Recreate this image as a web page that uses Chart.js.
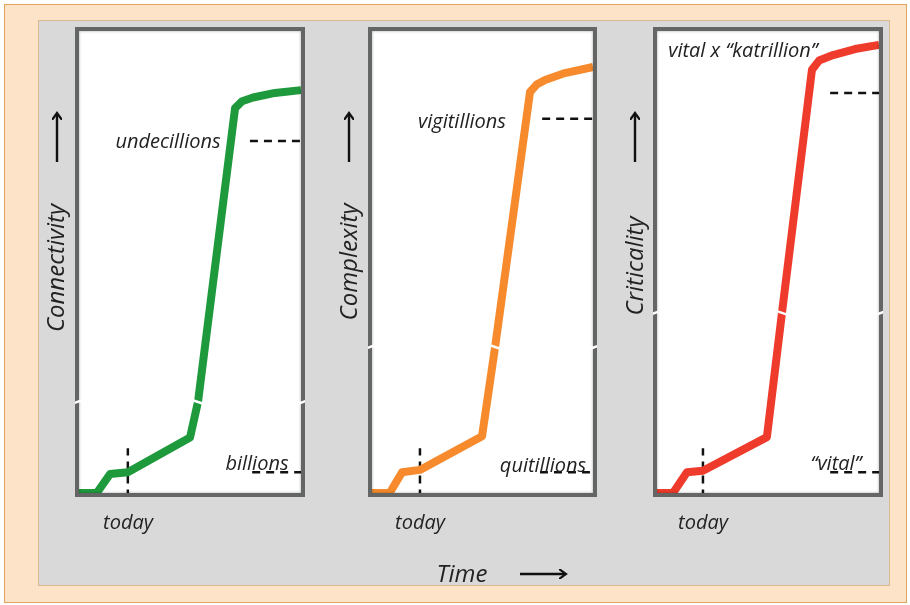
<!DOCTYPE html>
<html><head><meta charset="utf-8">
<script src="https://cdn.jsdelivr.net/npm/chart.js@4/dist/chart.umd.min.js"></script>
<style>
html,body{margin:0;padding:0;background:#fff;}
#stage{position:relative;width:910px;height:605px;overflow:hidden;background:#fff;}
#outer{position:absolute;left:4px;top:4px;width:903px;height:599px;background:#fde4c9;border:1px solid #e3a45c;box-sizing:border-box;}
#gray{position:absolute;left:38px;top:20px;width:852px;height:566px;background:#d9d9d9;border:1px solid #dcb88e;box-sizing:border-box;}
canvas{position:absolute;}
.lbl{position:absolute;font-family:"Open Sans","DejaVu Sans",sans-serif;font-style:italic;color:#222;font-size:20px;white-space:nowrap;line-height:1;transform:translate(-50%,-50%);}
.big{font-size:24px;}
.rot{transform:translate(-50%,-50%) rotate(-90deg);}
svg{position:absolute;left:0;top:0;}
</style>
</head><body>
<div id="stage">
<div id="outer"></div>
<div id="gray"></div>
<canvas id="c0" width="230" height="470" style="left:75px;top:27px"></canvas>
<canvas id="c1" width="229" height="470" style="left:368px;top:27px"></canvas>
<canvas id="c2" width="230" height="470" style="left:653px;top:27px"></canvas>
<svg width="910" height="605">
  <defs><marker id="ah" markerWidth="10" markerHeight="10" refX="6" refY="5" orient="auto" markerUnits="userSpaceOnUse">
    <path d="M0,0 L7,5 L0,10" fill="none" stroke="#111" stroke-width="2.2"/></marker></defs>
  <line x1="57" y1="162" x2="57" y2="114" stroke="#111" stroke-width="2.4" marker-end="url(#ah)"/>
  <line x1="349" y1="162" x2="349" y2="114" stroke="#111" stroke-width="2.4" marker-end="url(#ah)"/>
  <line x1="635" y1="162" x2="635" y2="114" stroke="#111" stroke-width="2.4" marker-end="url(#ah)"/>
  <line x1="520" y1="574" x2="565" y2="574" stroke="#111" stroke-width="2.4" marker-end="url(#ah)"/>
</svg>
<div class="lbl big rot" style="left:55px;top:268px">Connectivity</div>
<div class="lbl big rot" style="left:348px;top:262px">Complexity</div>
<div class="lbl big rot" style="left:634px;top:266px">Criticality</div>
<div class="lbl" style="left:168px;top:141px">undecillions</div>
<div class="lbl" style="left:257px;top:463px">billions</div>
<div class="lbl" style="left:462px;top:121px">vigitillions</div>
<div class="lbl" style="left:543px;top:465px">quitillions</div>
<div class="lbl" style="left:743px;top:50px">vital x “katrillion”</div>
<div class="lbl" style="left:836px;top:463px">“vital”</div>
<div class="lbl" style="left:128px;top:522px">today</div>
<div class="lbl" style="left:420px;top:522px">today</div>
<div class="lbl" style="left:703px;top:522px">today</div>
<div class="lbl big" style="left:462px;top:573px">Time</div>
</div>
<script>
// ---- data (time 0-100 across each panel, level 0-100 up each panel) ----
const panelNames = ['Connectivity', 'Complexity', 'Criticality'];
const seriesColors = ['#1e9a3c', '#f68a2c', '#ee3b2b'];

const connectivityTime  = [0, 8, 14, 22, 50, 53.6, 70.3, 73.5, 78.4, 88.3, 100];
const connectivityLevel = [0, 0, 4.1, 4.5, 12, 19.7, 83.3, 84.8, 85.6, 86.6, 87.2];

const complexityTime  = [0, 8, 13.6, 21.7, 49.8, 55.7, 71.5, 74.5, 78.3, 87.3, 100];
const complexityLevel = [0, 0, 4.5, 5, 12.3, 31.6, 86.8, 88.4, 89.4, 90.9, 92.2];

const criticalityTime  = [0, 7.2, 13.5, 20.7, 49.5, 56.3, 69.8, 73, 79.3, 89.2, 100];
const criticalityLevel = [0, 0, 4.5, 4.8, 12.1, 39, 91.6, 93.6, 94.8, 96.1, 97];

const breakIndex = [5, 5, 5];           // point where the axis break crosses the curve
const todayTime = [22, 21.7, 20.7];
const todayLevelTop = [9.7, 9.7, 9.7];
const upperLevel = [76.2, 81, 86.6];     // undecillions / vigitillions / vital x katrillion
const upperStart = [77, 77, 78];
const lowerLevel = [4.5, 4.5, 4.5];      // billions / quitillions / vital
const lowerStart = [78, 76, 78];

const seriesTime = [connectivityTime, complexityTime, criticalityTime];
const seriesLevel = [connectivityLevel, complexityLevel, criticalityLevel];

const decoPlugin = {
  id: 'deco',
  afterDatasetsDraw(chart, args, opts) {
    const {ctx, chartArea: a, scales: {x, y}} = chart;
    ctx.save();
    ctx.shadowColor = 'rgba(0,0,0,0.35)';
    ctx.shadowBlur = 3;
    ctx.strokeStyle = '#646565';
    ctx.lineWidth = 4;
    ctx.strokeRect(a.left - 2, a.top - 2, a.width + 4, a.height + 4);
    ctx.shadowColor = 'transparent';
    const i = opts.idx;
    const by = y.getPixelForValue(seriesLevel[i][breakIndex[i]]);
    const bx = x.getPixelForValue(seriesTime[i][breakIndex[i]]);
    ctx.strokeStyle = '#ffffff';
    ctx.lineWidth = 2.5;
    [a.left - 2, a.right + 2].forEach(ex => {
      ctx.beginPath(); ctx.moveTo(ex - 4, by + 1.5); ctx.lineTo(ex + 4, by - 1.5); ctx.stroke();
    });
    ctx.beginPath(); ctx.moveTo(bx - 6, by - 2); ctx.lineTo(bx + 6, by + 2); ctx.stroke();
    ctx.restore();
  }
};

function dashed(points) {
  return {data: points, showLine: true, borderColor: '#111', borderWidth: 2.5,
          borderDash: [8, 6], pointRadius: 0, clip: false, tension: 0, order: 2};
}

for (let i = 0; i < 3; i++) {
  const curve = seriesTime[i].map((t, k) => ({x: t, y: seriesLevel[i][k]}));
  new Chart(document.getElementById('c' + i), {
    type: 'scatter',
    data: {datasets: [
      {label: panelNames[i], data: curve, showLine: true, borderColor: seriesColors[i],
       borderWidth: 8, pointRadius: 0, tension: 0,
       borderJoinStyle: 'round', borderCapStyle: 'butt', clip: false, order: 1},
      dashed([{x: todayTime[i], y: -1}, {x: todayTime[i], y: todayLevelTop[i]}]),
      dashed([{x: upperStart[i], y: upperLevel[i]}, {x: 100, y: upperLevel[i]}]),
      dashed([{x: lowerStart[i], y: lowerLevel[i]}, {x: 100, y: lowerLevel[i]}])
    ]},
    options: {
      responsive: false, animation: false, devicePixelRatio: 1,
      layout: {padding: 4},
      plugins: {legend: {display: false}, tooltip: {enabled: false}, deco: {idx: i}},
      scales: {
        x: {type: 'linear', min: 0, max: 100, display: false},
        y: {type: 'linear', min: 0, max: 100, display: false}
      }
    },
    plugins: [decoPlugin, {id: 'bg', beforeDraw(c) {
      const {ctx, chartArea: a} = c; ctx.save(); ctx.fillStyle = '#fff';
      ctx.fillRect(a.left, a.top, a.width, a.height); ctx.restore(); }}]
  });
}
</script>
</body></html>
